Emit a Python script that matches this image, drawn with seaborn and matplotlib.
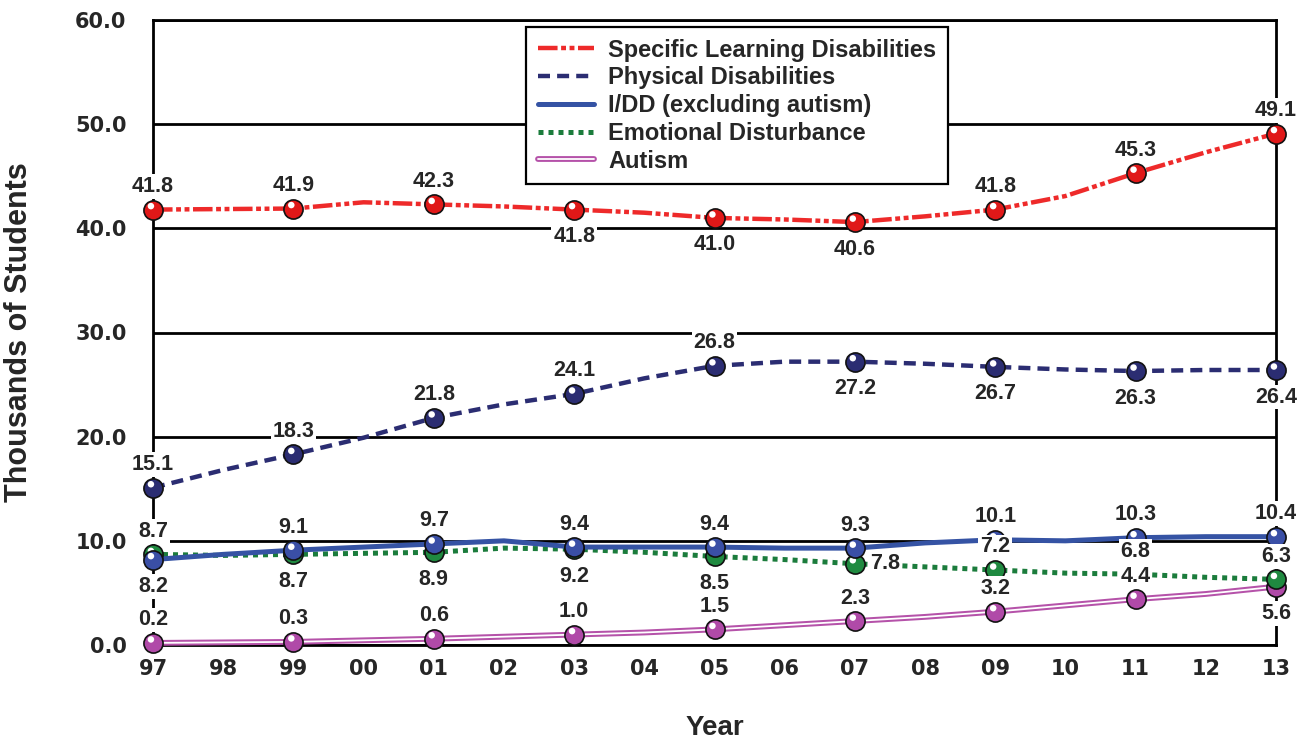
import numpy as np
import pandas as pd
import matplotlib
matplotlib.use('Agg')
import matplotlib.pyplot as plt
import matplotlib.patheffects as pe
from matplotlib.transforms import ScaledTranslation
import seaborn as sns

# data (thousands of students)
years = ['97', '98', '99', '00', '01', '02', '03', '04', '05',
         '06', '07', '08', '09', '10', '11', '12', '13']
sld = [41.8, 41.85, 41.9, 42.5, 42.3, 42.1, 41.8, 41.5, 41.0,
       40.85, 40.6, 41.15, 41.8, 43.1, 45.3, 47.3, 49.1]
physical = [15.1, 16.8, 18.3, 19.9, 21.8, 23.1, 24.1, 25.6, 26.8,
            27.2, 27.2, 27.0, 26.7, 26.45, 26.3, 26.4, 26.4]
idd = [8.2, 8.7, 9.1, 9.4, 9.7, 10.0, 9.4, 9.4, 9.4,
       9.3, 9.3, 9.8, 10.1, 10.0, 10.3, 10.4, 10.4]
emotional = [8.7, 8.6, 8.7, 8.8, 8.9, 9.3, 9.2, 8.9, 8.5,
             8.2, 7.8, 7.5, 7.2, 6.9, 6.8, 6.5, 6.3]
autism = [0.2, 0.25, 0.3, 0.45, 0.6, 0.8, 1.0, 1.2, 1.5,
          1.9, 2.3, 2.7, 3.2, 3.8, 4.4, 4.9, 5.6]

marker_years = ['97', '99', '01', '03', '05', '07', '09', '11', '13']

# where each value label sits: a = above, b = below, r = right
sld_side = ['a', 'a', 'a', 'b', 'b', 'b', 'a', 'a', 'a']
phys_side = ['a', 'a', 'a', 'a', 'a', 'b', 'b', 'b', 'b']
idd_side = ['b', 'a', 'a', 'a', 'a', 'a', 'a', 'a', 'a']
emo_side = ['a', 'b', 'b', 'b', 'b', 'r', 'a', 'a', 'a']
aut_side = ['a', 'a', 'a', 'a', 'a', 'a', 'a', 'a', 'b']

x = np.arange(len(years))
mx = np.array([years.index(y) for y in marker_years])

sns.set_style('white')
plt.rcParams['font.family'] = ['Liberation Sans', 'DejaVu Sans']

fig = plt.figure(figsize=(13.12, 7.4), dpi=100)
ax = fig.add_axes([153 / 1312, 1 - 645 / 740, 1123 / 1312, 625 / 740])

# drawn bottom-up so the top series' balls sit over the others
series = [
    ('Autism', autism, aut_side, '#ffffff', '#b04aa8', '-', 1.3, 'aut'),
    ('Emotional Disturbance', emotional, emo_side, '#1b7c3c', '#1f8a40',
     (0, (1, 1)), 3.6, 'emo'),
    ('I/DD (excluding autism)', idd, idd_side, '#3553a4', '#3a4fa6', '-', 3.6, 'idd'),
    ('Physical Disabilities', physical, phys_side, '#2b2d72', '#2b2d72',
     (0, (2.7, 1.6)), 3.2, 'phys'),
    ('Specific Learning Disabilities', sld, sld_side, '#ee2a2a', '#e01818',
     (0, (4.4, 0.8, 1.1, 0.8, 1.1, 0.8)), 3.2, 'sld'),
]

hl = ScaledTranslation(-1.5 / 72, 2.5 / 72, fig.dpi_scale_trans)
lines = {}
for i, (name, vals, side, lc, bc, ls, lw, key) in enumerate(series):
    vals = np.array(vals)
    sns.lineplot(x=x, y=vals, ax=ax, color=lc, linestyle=ls, linewidth=lw,
                 label=name, clip_on=False, zorder=3 + i)
    ln = ax.get_lines()[-1]
    if key == 'aut':
        ln.set_path_effects([pe.Stroke(linewidth=4.2, foreground='#b552a9'), pe.Normal()])
    lines[key] = ln
    sns.scatterplot(x=mx, y=vals[mx], ax=ax, s=190, color=bc, edgecolor='#111111',
                    linewidth=1.2, clip_on=False, zorder=10 + i, legend=False)
    ax.scatter(mx, vals[mx], s=22, color='white', edgecolor='none', clip_on=False,
               zorder=10.5 + i, transform=ax.transData + hl)
    for xi, v, sd in zip(mx, vals[mx], side):
        if sd == 'a':
            off, ha, va = (0, 23), 'center', 'center'
        elif sd == 'b':
            off, ha, va = (0, -27), 'center', 'center'
        else:
            off, ha, va = (15, 0), 'left', 'center'
        ax.annotate(f'{v:.1f}', (xi, v), xytext=off, textcoords='offset pixels',
                    ha=ha, va=va, fontsize=15.5, fontweight='bold', zorder=30,
                    annotation_clip=False,
                    bbox=dict(boxstyle='square,pad=0.08', fc='white', ec='none'))

ax.set_xlim(0, 16)
ax.set_ylim(0, 60)
ax.set_xticks(x)
ax.set_xticklabels(years)
ax.set_yticks(np.arange(0, 61, 10))
ax.set_yticklabels([f'{v:.1f}' for v in np.arange(0, 61, 10)])
for lab in ax.get_xticklabels() + ax.get_yticklabels():
    lab.set_family('DejaVu Sans')
    lab.set_fontweight('bold')
    lab.set_fontsize(15)
ax.tick_params(axis='x', direction='in', length=14, width=2.2, color='black', pad=10)
ax.tick_params(axis='y', length=0, pad=19)
ax.yaxis.grid(True, color='black', linewidth=2)
ax.set_axisbelow(True)
for s in ax.spines.values():
    s.set_color('black')
    s.set_linewidth(2)
    s.set_visible(True)

ax.set_xlabel('Year', fontsize=20, fontweight='bold')
ax.set_ylabel('Thousands of Students', fontsize=22, fontweight='bold')
ax.xaxis.set_label_coords(0.5, -0.112)
ax.yaxis.set_label_coords(-0.106, 0.5)

order = ['sld', 'phys', 'idd', 'emo', 'aut']
names = {s[7]: s[0] for s in series}
leg = ax.legend([lines[k] for k in order], [names[k] for k in order],
                loc='upper left', bbox_to_anchor=(0.332, 0.989), borderaxespad=0,
                frameon=True, fancybox=False, edgecolor='black', framealpha=1,
                prop={'weight': 'bold', 'size': 17}, handlelength=2.4,
                handletextpad=0.6, labelspacing=0.2, borderpad=0.5)
leg.get_frame().set_linewidth(1.6)
leg.set_zorder(40)

fig.savefig('out.png', dpi=100)
